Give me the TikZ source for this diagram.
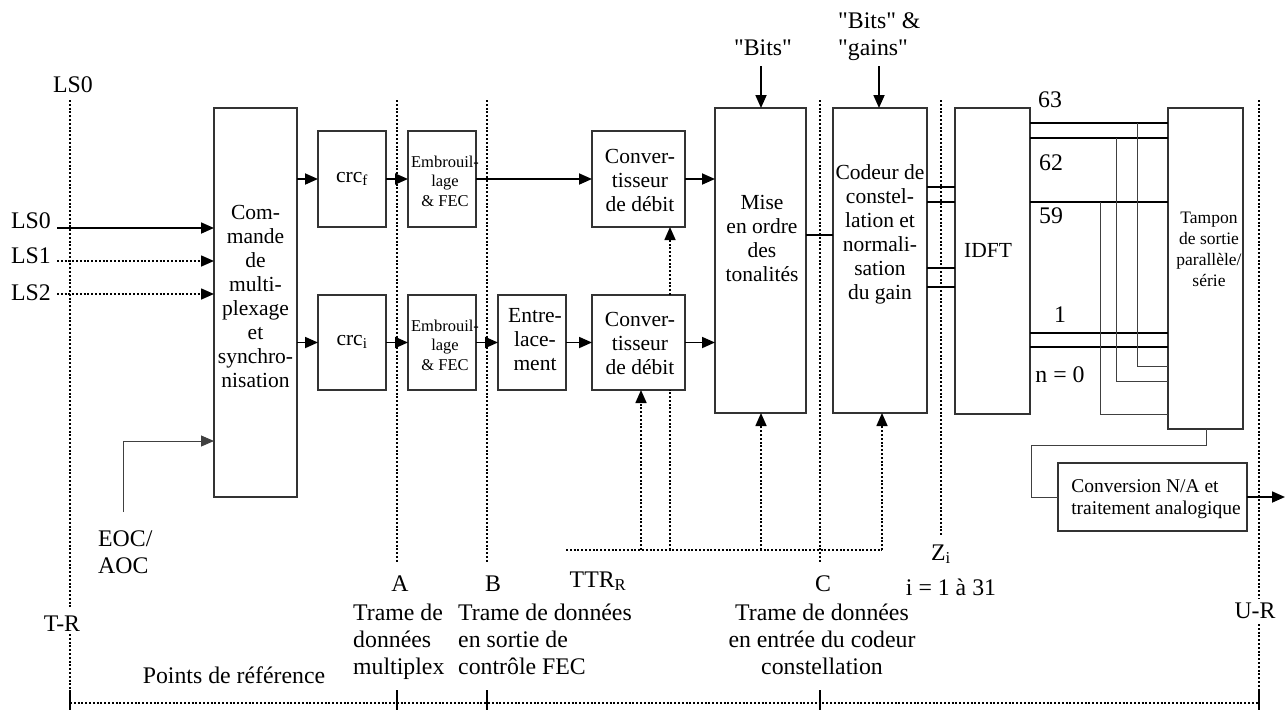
\documentclass[tikz,border=0pt]{standalone}
\usepackage{fontspec}
\newfontfamily\tnr{Liberation Serif}
\usetikzlibrary{arrows.meta}
\newcommand\fntA{\tnr\fontsize{21.5}{24}\selectfont}
\newcommand\fntL{\tnr\fontsize{23.8}{27}\selectfont}
\newcommand\fntE{\tnr\fontsize{16.5}{19.5}\selectfont}
\newcommand\fntT{\tnr\fontsize{17.5}{21}\selectfont}
\newcommand\fntC{\tnr\fontsize{19.5}{22}\selectfont}
\begin{document}
\begin{tikzpicture}[x=1pt,y=-1pt,
  blk/.style={draw=black!80, line width=1.1pt, inner sep=0pt, outer sep=0pt, rectangle},
  wire/.style={line width=1.8pt, black},
  thinw/.style={line width=1pt, black!75},
  tip/.style={-{Triangle[length=13pt,width=11pt]}},
  arr/.style={wire, tip},
  dotl/.style={line width=1.6pt, dash pattern=on 2pt off 1.8pt},
  darr/.style={dotl, tip},
  txt/.style={inner sep=0pt, font=\fntA, align=center},
  lbl/.style={inner sep=0pt, font=\fntL, align=left},
]
\useasboundingbox (0,0) rectangle (1286,710);

% reference lines
\draw[dotl] (70,100) -- (70,608);
\draw[dotl] (70,634) -- (70,690);
\draw[dotl] (397,100) -- (397,563);
\draw[dotl] (487,100) -- (487,563);
\draw[dotl] (820,100) -- (820,563);
\draw[dotl] (941,100) -- (941,535);
\draw[dotl] (1259,100) -- (1259,598);
\draw[dotl] (1259,624) -- (1259,690);
\draw[dotl] (70,703) -- (1259,703);
\foreach \x in {70,397,487,820,1259} \draw[line width=1.5pt] (\x,690) -- (\x,710);

% boxes
\node[blk, minimum width=83, minimum height=389] (cmd) at (255.5,302.5) {};
\node[blk, minimum width=68, minimum height=96] (crcf) at (352,179) {};
\node[blk, minimum width=68, minimum height=95] (crci) at (352,342.5) {};
\node[blk, minimum width=68, minimum height=96] (embf) at (442,179) {};
\node[blk, minimum width=68, minimum height=95] (embi) at (442,342.5) {};
\node[blk, minimum width=68, minimum height=95] (entr) at (532,342.5) {};
\node[blk, minimum width=93, minimum height=96] (convf) at (638.5,179) {};
\node[blk, minimum width=93, minimum height=95] (convi) at (638.5,342.5) {};
\node[blk, minimum width=91, minimum height=305] (mise) at (760.5,260.5) {};
\node[blk, minimum width=94, minimum height=305] (cod) at (880,260.5) {};
\node[blk, minimum width=75, minimum height=306] (idft) at (992.5,261) {};
\node[blk, minimum width=75, minimum height=321] (tamp) at (1205.5,268.5) {};
\node[blk, minimum width=189, minimum height=68] (cna) at (1152.5,497) {};

% box texts
\node[txt] (cmdt) at (255.5,296) {Com-\\mande\\de\\multi-\\plexage\\et\\synchro-\\nisation};
\node[txt] (crcft) at (352,179) {crc\textsubscript{f}};
\node[txt] (crcit) at (352,342) {crc\textsubscript{i}};
\node[txt, font=\fntE] (embft) at (445,181) {Embrouil-\\lage\\\& FEC};
\node[txt, font=\fntE] (embit) at (445,345) {Embrouil-\\lage\\\& FEC};
\node[txt] (entrt) at (535,340) {Entre-\\lace-\\ment};
\node[txt] (convft) at (640,180) {Conver-\\tisseur\\de débit};
\node[txt] (convit) at (640,343) {Conver-\\tisseur\\de débit};
\node[txt] (miset) at (762,238) {Mise\\en ordre\\des\\tonalités};
\node[txt] (codt) at (880,234) {Codeur de\\constel-\\lation et\\normali-\\sation\\du gain};
\node[txt] (idftt) at (988,250) {IDFT};
\node[txt, font=\fntT] (tampt) at (1209,249) {Tampon\\de sortie\\parallèle/\\série};
\node[txt, font=\fntC, align=left] (cnat) at (1156,499) {Conversion N/A et\\traitement analogique};

% inputs on the left
\node[lbl, anchor=base west] (ls0top) at (53,92) {LS0};
\node[lbl, anchor=base east] (ls0) at (51,228) {LS0};
\node[lbl, anchor=base east] (ls1) at (51,263) {LS1};
\node[lbl, anchor=base east] (ls2) at (51,300) {LS2};
\coordinate (ls0s) at (57,228);
\coordinate (ls1s) at (57,261);
\coordinate (ls2s) at (57,294);
\draw[arr] (ls0s) -- (ls0s -| cmd.west);
\draw[darr] (ls1s) -- (ls1s -| cmd.west);
\draw[darr] (ls2s) -- (ls2s -| cmd.west);
\coordinate (eocs) at (123,512);
\coordinate (eocb) at (123,441);
\draw[thinw, tip] (eocs) -- (eocb) -- (eocb -| cmd.west);
\node[lbl, anchor=base west] (eoc) at (98,573) {EOC/\\AOC};

% main chains
\draw[arr] (cmd.east |- crcf.west) -- (crcf.west);
\draw[arr] (cmd.east |- crci.west) -- (crci.west);
\draw[arr] (crcf.east) -- (embf.west);
\draw[arr] (crci.east) -- (embi.west);
\draw[arr] (embf.east) -- (convf.west);
\draw[arr] (embi.east) -- (entr.west);
\draw[arr] (entr.east) -- (convi.west);
\draw[arr] (convf.east) -- (convf.east -| mise.west);
\draw[arr] (convi.east) -- (convi.east -| mise.west);
\draw[darr] (convi.north -| 670,0) -- (convf.south -| 670,0);

% top inputs
\coordinate (bits) at (761,66);
\coordinate (bitsg) at (879,66);
\draw[arr] (bits) -- (bits |- mise.north);
\draw[arr] (bitsg) -- (bitsg |- cod.north);
\node[lbl, anchor=base] (bitst) at (763,55) {"Bits"};
\node[lbl, anchor=base west] (bitsgt) at (838,55) {"Bits" \&\\"gains"};

% TTR
\coordinate (ttrw) at (566,550);
\coordinate (ttre) at (882,550);
\draw[dotl] (ttrw) -- (ttre);
\draw[darr] (641,550) -- (convi.south -| 641,0);
\draw[dotl] (670,550) -- (convi.south -| 670,0);
\draw[darr] (761,550) -- (mise.south -| 761,0);
\draw[darr] (ttre) -- (cod.south -| ttre);

% mise -> codeur -> idft
\draw[wire] (mise.east |- 0,235) -- (cod.west |- 0,235);
\foreach \y in {187,202,268,287} \draw[wire] (cod.east |- 0,\y) -- (idft.west |- 0,\y);
\foreach \y in {123,138,202,333,347} \draw[wire] (idft.east |- 0,\y) -- (tamp.west |- 0,\y);
\draw[thinw] (1137,123) -- (1137,366) -- (tamp.west |- 0,366);
\draw[thinw] (1116,138) -- (1116,381) -- (tamp.west |- 0,381);
\draw[thinw] (1100,202) -- (1100,414) -- (tamp.west |- 0,414);
\node[lbl, anchor=center] (n63) at (1050,100) {63};
\node[lbl, anchor=center] (n62) at (1051,163) {62};
\node[lbl, anchor=center] (n59) at (1051,216) {59};
\node[lbl, anchor=center] (n1) at (1060,315) {1};
\node[lbl, anchor=center] (n0) at (1060,375) {n = 0};

% output
\coordinate (tb) at (1206,445);
\coordinate (tl) at (1031,445);
\draw[thinw] (tamp.south -| tb) -- (tb) -- (tl) -- (tl |- cna.west) -- (cna.west);
\coordinate (out) at (1285,497);
\draw[arr] (cna.east) -- (out);

% bottom labels
\node[lbl, anchor=base] (la) at (400,591) {A};
\node[lbl, anchor=base] (lb) at (493,591) {B};
\node[lbl, anchor=base] (lc) at (823,591) {C};
\node[lbl, anchor=base] (lttr) at (598,587) {TTR\textsubscript{R}};
\node[lbl, anchor=base] (lz) at (941,560) {Z\textsubscript{i}};
\node[lbl, anchor=base] (li) at (951,595) {i = 1 à 31};
\node[lbl, anchor=base] (ltr) at (62,631) {T-R};
\node[lbl, anchor=base] (lur) at (1255,618) {U-R};
\node[lbl, anchor=base west] (tra) at (353,674) {Trame de\\données\\multiplex};
\node[lbl, anchor=base west] (trb) at (458,674) {Trame de données\\en sortie de\\contrôle FEC};
\node[lbl, anchor=base, align=center] (trc) at (822,674) {Trame de données\\en entrée du codeur\\constellation};
\node[lbl, anchor=base] (pts) at (234,683) {Points de référence};
\end{tikzpicture}
\end{document}
